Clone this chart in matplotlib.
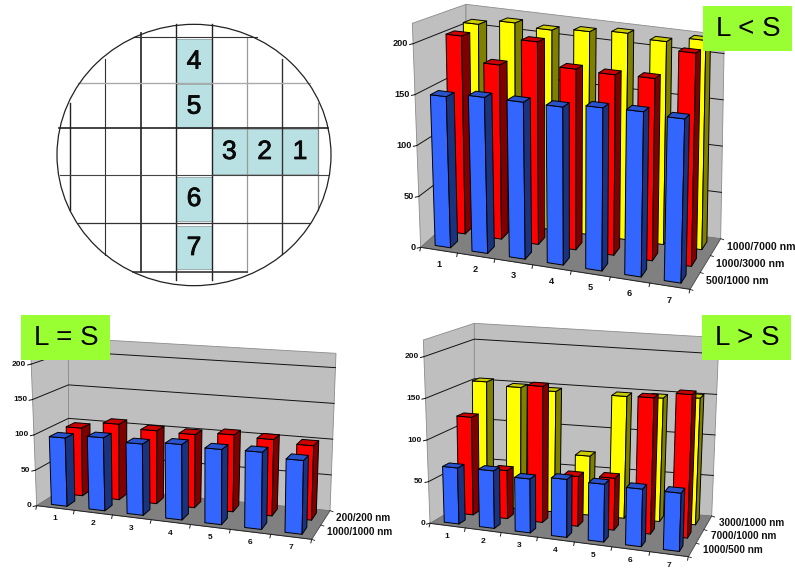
import numpy as np
import matplotlib
matplotlib.use("Agg")
import matplotlib.pyplot as plt
import matplotlib.patheffects as pe
from matplotlib.patches import Polygon, Ellipse, Rectangle

plt.rcParams['font.family'] = ['Liberation Sans', 'DejaVu Sans']

categories = ['1', '2', '3', '4', '5', '6', '7']
y_ticks = [0, 50, 100, 150, 200]
Z_MAX = 220

lt_series = ['500/1000 nm', '1000/3000 nm', '1000/7000 nm']
lt_blue = [149, 153, 153, 153, 157, 158, 156]
lt_red = [202, 177, 205, 182, 181, 182, 212]
lt_yellow = [207, 213, 210, 213, 216, 212, 218]

eq_series = ['1000/1000 nm', '200/200 nm']
eq_blue = [96, 101, 97, 101, 99, 100, 94]
eq_red = [98, 108, 103, 102, 106, 104, 100]

gt_series = ['1000/500 nm', '7000/1000 nm', '3000/1000 nm']
gt_blue = [67, 68, 63, 67, 66, 65, 65]
gt_red = [119, 58, 163, 59, 61, 159, 166]
gt_yellow = [154, 150, 148, 72, 148, 149, 152]

wafer_labels = ['1', '2', '3', '4', '5', '6', '7']

BLUE = ('#3366FF', '#1A337F', '#2952CC')
RED = ('#FF0000', '#800000', '#CC0000')
YEL = ('#FFFF00', '#808000', '#CCCC00')

fig = plt.figure(figsize=(7.95, 5.69), dpi=100, facecolor='white')
ax = fig.add_axes([0, 0, 1, 1])
ax.set_xlim(0, 795)
ax.set_ylim(569, 0)
ax.axis('off')


def bilinear(c, s, t):
    return (1 - s) * (1 - t) * c[0] + s * (1 - t) * c[1] + s * t * c[2] + (1 - s) * t * c[3]


def panel(ox, oy, floor, top, series, data, colors, gu, gv, cat_dy, fs, tick_fs, warp=0.05):
    fl = np.array([(ox + a / 3, oy + b / 3) for a, b in floor])
    tp = np.array([(ox + a / 3, oy + b / 3) for a, b in top])
    nc, ns = len(categories), len(series)

    def P(u, v, z=0):
        s, t = u / nc, v / ns
        s = s - warp * s * (1 - s)
        a = bilinear(fl, s, t)
        b = bilinear(tp, s, t)
        return tuple(a + (b - a) * z / Z_MAX)

    wall = '#BFBFBF'
    ax.add_patch(Polygon([P(0, 0), P(0, ns), P(0, ns, Z_MAX), P(0, 0, Z_MAX)],
                         fc=wall, ec='#8C8C8C', lw=0.6, zorder=1))
    ax.add_patch(Polygon([P(0, ns), P(nc, ns), P(nc, ns, Z_MAX), P(0, ns, Z_MAX)],
                         fc=wall, ec='#8C8C8C', lw=0.6, zorder=1))
    ax.add_patch(Polygon([P(0, 0), P(nc, 0), P(nc, ns), P(0, ns)],
                         fc='#808080', ec='#707070', lw=0.5, zorder=2))
    for z in y_ticks:
        a, b, c = P(0, 0, z), P(0, ns, z), P(nc, ns, z)
        if z:
            ax.plot([a[0], b[0], c[0]], [a[1], b[1], c[1]], color='#111111', lw=0.7, zorder=2)
        ax.plot([a[0] - 3.5, a[0]], [a[1] + 0.8, a[1]], color='#111111', lw=0.7, zorder=3)
        ax.text(a[0] - 5, a[1], str(z), ha='right', va='center', fontsize=tick_fs,
                fontweight='bold', color='#111111', zorder=3)
    a, b = P(0, 0), P(nc, 0)
    ax.plot([a[0], b[0]], [a[1], b[1]], color='#222222', lw=0.7, zorder=3)
    for i in range(nc + 1):
        a = P(i, 0)
        ax.plot([a[0], a[0] - 0.8], [a[1], a[1] + 3.5], color='#222222', lw=0.7, zorder=3)
    for i, lab in enumerate(categories):
        a = P(i + 0.5, 0)
        ax.text(a[0] - 0.5, a[1] + cat_dy, lab, ha='center', va='center', fontsize=tick_fs,
                fontweight='bold', color='#111111', zorder=3)
    a, b = P(nc, 0), P(nc, ns)
    ax.plot([a[0], b[0]], [a[1], b[1]], color='#555555', lw=0.6, zorder=3)
    for j in range(ns + 1):
        a = P(nc, j)
        ax.plot([a[0], a[0] + 3], [a[1], a[1] + 1], color='#222222', lw=0.6, zorder=3)
    for j, lab in enumerate(series):
        a = P(nc, j + 0.5)
        ax.text(a[0] + 11, a[1], lab, ha='left', va='center', fontsize=fs,
                fontweight='bold', color='#111111', zorder=3)

    z0 = 5
    for j in range(ns - 1, -1, -1):
        vals = data[j]
        fc, sc, tc = colors[j]
        for i in range(nc):
            u0, u1 = i + gu, i + 1 - gu
            v0, v1 = j + gv, j + 1 - gv
            z = vals[i]
            faces = [([P(u0, v0), P(u1, v0), P(u1, v0, z), P(u0, v0, z)], fc),
                     ([P(u1, v0), P(u1, v1), P(u1, v1, z), P(u1, v0, z)], sc),
                     ([P(u0, v0, z), P(u1, v0, z), P(u1, v1, z), P(u0, v1, z)], tc)]
            for pts, col in faces:
                ax.add_patch(Polygon(pts, fc=col, ec='#000000', lw=0.7, joinstyle='round', zorder=z0))
            z0 += 0.01


panel(380, 0,
      [(122, 742), (930, 868), (1022, 716), (258, 620)],
      [(97, 70), (948, 164), (1033, 105), (258, 13)],
      lt_series, [lt_blue, lt_red, lt_yellow], [BLUE, RED, YEL], 0.29, 0.26, 14, 7.6, 6.6)
panel(0, 300,
      [(110, 617), (935, 718), (990, 632), (206, 556)],
      [(92, 150), (945, 190), (1008, 160), (205, 114)],
      eq_series, [eq_blue, eq_red], [BLUE, RED], 0.29, 0.25, 11, 7.2, 6.0)
panel(395, 300,
      [(105, 670), (880, 770), (950, 648), (238, 592)],
      [(85, 120), (900, 170), (972, 113), (238, 70)],
      gt_series, [gt_blue, gt_red, gt_yellow], [BLUE, RED, YEL], 0.29, 0.28, 11, 7.2, 6.0)

# Wafer map (layout in 3x crop coordinates)
S = 1 / 3
cells = {'4': (529, 635, 118, 250), '5': (529, 635, 253, 385), '3': (635, 741, 388, 522),
         '2': (741, 847, 388, 522), '1': (847, 953, 388, 522), '6': (529, 635, 530, 662),
         '7': (529, 635, 678, 808)}
for lab in wafer_labels:
    x0, x1, y0, y1 = cells[lab]
    ax.add_patch(Rectangle((x0 * S, y0 * S), (x1 - x0) * S, (y1 - y0) * S,
                           fc='#B9E0E3', ec='#8FA6A8', lw=0.6, zorder=1))
    ax.text((x0 + x1) / 2 * S, (y0 + y1) / 2 * S + 0.3, lab, ha='center', va='center',
            fontsize=19, color='#0A0A0A', zorder=3,
            path_effects=[pe.withStroke(linewidth=0.6, foreground='#0A0A0A')])
vlines = [(210, 310, 630, '#222222', 1.0), (316, 178, 765, '#333333', 0.8), (423, 100, 815, '#333333', 1.3),
          (529, 72, 840, '#222222', 1.0), (635, 72, 840, '#222222', 1.0), (741, 110, 815, '#999999', 0.9),
          (847, 178, 762, '#333333', 1.0), (953, 310, 630, '#888888', 0.9)]
hlines = [(112, 400, 770, '#333333', 0.8), (250, 235, 930, '#AAAAAA', 1.0), (385, 178, 985, '#222222', 1.2),
          (525, 180, 985, '#444444', 0.8), (668, 235, 930, '#333333', 0.9), (815, 400, 741, '#333333', 1.2)]
for x, a, b, c, w in vlines:
    ax.plot([x * S, x * S], [a * S, b * S], color=c, lw=w, zorder=2)
for y, a, b, c, w in hlines:
    ax.plot([a * S, b * S], [y * S, y * S], color=c, lw=w, zorder=2)
ax.add_patch(Ellipse((582 * S, 465 * S), 822 * S, 784 * S, fc='none', ec='#222222', lw=0.9, zorder=4))

# Green labels
for (x, y, txt) in [(703, 6, 'L < S'), (21, 315, 'L = S'), (702, 315, 'L > S')]:
    ax.add_patch(Rectangle((x, y), 89, 45, fc='#99FF33', ec='none', zorder=50))
    ax.text(x + 45, y + 23, txt, ha='center', va='center', fontsize=20, color='#000000', zorder=51)

fig.savefig('out.png', dpi=100)
